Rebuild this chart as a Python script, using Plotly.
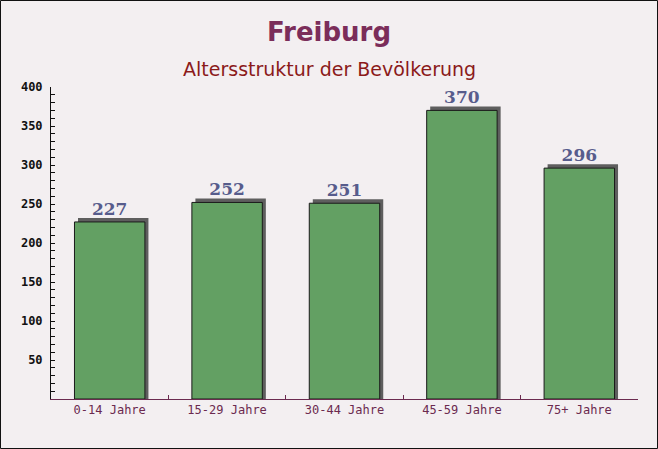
import plotly.graph_objects as go

categories = ["0-14 Jahre", "15-29 Jahre", "30-44 Jahre", "45-59 Jahre", "75+ Jahre"]
values = [227, 252, 251, 370, 296]
title_text = "Freiburg"
subtitle_text = "Altersstruktur der Bevölkerung"
y_ticks = [50, 100, 150, 200, 250, 300, 350, 400]

W, H = 658, 449
ML, MR, MT, MB = 51, 20, 87, 50
pw = W - ML - MR
ph = H - MT - MB

shadow_shift = 5  # units above bar top for 3D shadow

fig = go.Figure()
fig.add_trace(go.Bar(
    x=categories, y=[v + shadow_shift for v in values],
    width=0.6, offset=-0.3 + 0.03,
    marker=dict(color="#5e5e5e", line=dict(width=0)),
    hoverinfo="skip", showlegend=False,
))
fig.add_trace(go.Bar(
    x=categories, y=values,
    width=0.6, offset=-0.3,
    marker=dict(color="#63a063", line=dict(color="#1a1a1a", width=1)),
    text=[str(v) for v in values], textposition="outside",
    textfont=dict(family="DejaVu Serif", size=17, color="#575c8c", weight="bold"),
    cliponaxis=False, showlegend=False,
))

fig.update_layout(
    width=W, height=H,
    margin=dict(l=ML, r=MR, t=MT, b=MB),
    paper_bgcolor="#f3eff1",
    plot_bgcolor="rgba(0,0,0,0)",
    barmode="overlay",
    bargap=0.4,
    xaxis=dict(
        showgrid=False, showline=True, linecolor="#6b2a4f", linewidth=1,
        ticks="inside", tickson="boundaries", ticklen=4, tickcolor="#6b2a4f",
        tickfont=dict(family="DejaVu Sans Mono", size=12, color="#6b2a4f"),
        fixedrange=True,
    ),
    yaxis=dict(
        range=[0, 400], tickvals=y_ticks, showgrid=False, zeroline=False,
        showline=True, linecolor="#111111", linewidth=1,
        ticks="inside", ticklen=4, tickcolor="#111111",
        minor=dict(dtick=10, ticks="inside", ticklen=4, tickcolor="#111111"),
        tickfont=dict(family="DejaVu Sans Mono", size=12, color="#111111", weight="bold"),
        ticklabelstandoff=5,
        fixedrange=True,
    ),
    annotations=[
        dict(text=title_text, xref="paper", yref="paper", x=(W / 2 - ML) / pw,
             y=1 + (MT - 32) / ph, yanchor="middle", showarrow=False,
             font=dict(family="DejaVu Sans", size=26, color="#7b2d5a", weight="bold")),
        dict(text=subtitle_text, xref="paper", yref="paper", x=(W / 2 - ML) / pw,
             y=1 + (MT - 69) / ph, yanchor="middle", showarrow=False,
             font=dict(family="DejaVu Sans", size=19, color="#8b1a1a")),
    ],
    shapes=[
        dict(type="rect", xref="paper", yref="paper",
             x0=(-ML + 0.5) / pw, x1=1 + (MR - 0.5) / pw,
             y0=(-MB + 0.5) / ph, y1=1 + (MT - 0.5) / ph,
             line=dict(color="#111111", width=1), layer="above"),
    ],
)

fig.write_html("out.html", config={"displayModeBar": False},
               post_script="document.body.style.margin='0';document.body.style.overflow='hidden';")
